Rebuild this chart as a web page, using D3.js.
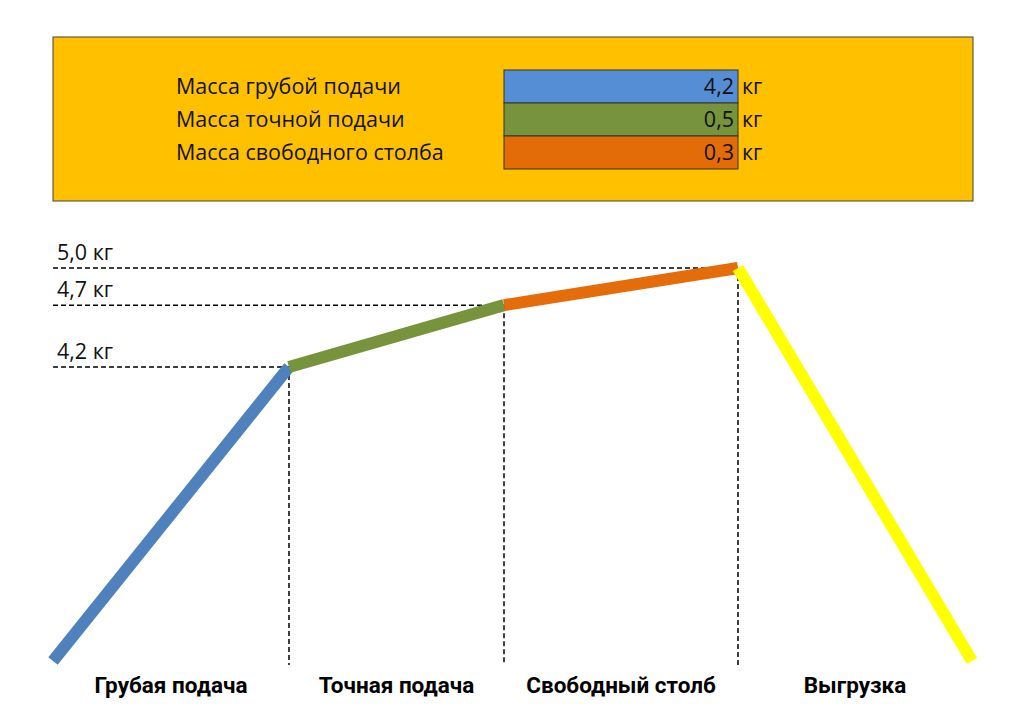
<!DOCTYPE html>
<html>
<head>
<meta charset="utf-8">
<script src="https://cdn.jsdelivr.net/npm/d3@7"></script>
<style>
  html, body { margin: 0; padding: 0; background: #fff; }
  svg { display: block; }
</style>
</head>
<body>
<svg id="chart"></svg>
<script>
// stages along the bottom
const stages = ['Грубая подача', 'Точная подача', 'Свободный столб', 'Выгрузка'];
// legend rows in the orange panel
const massLabels = ['Масса грубой подачи', 'Масса точной подачи', 'Масса свободного столба'];
const masses = [4.2, 0.5, 0.3];
const massColors = ['#558ed5', '#77933c', '#e36c09'];
// colours of the profile segments (last one is unloading)
const lineColors = ['#4f81bd', '#77933c', '#e46c0a', '#ffff00'];
const unit = 'кг';

const width = 1024;
const height = 721;

const fmt = v => d3.format('.1f')(v).replace('.', ',');

// cumulative mass at each boundary: 0, 4.2, 4.7, 5.0, then back to 0
const cumulative = Array.from(d3.cumsum(masses));
const levels = [0, ...cumulative, 0];

const svg = d3.select('#chart')
  .attr('width', width)
  .attr('height', height)
  .attr('viewBox', [0, 0, width, height]);

// ---- top panel ----
const panel = {x: 53, y: 37, w: 920, h: 164};
svg.append('rect')
  .attr('x', panel.x)
  .attr('y', panel.y)
  .attr('width', panel.w)
  .attr('height', panel.h)
  .attr('fill', '#ffc000')
  .attr('stroke', '#404040')
  .attr('stroke-width', 1);

const rowY = d3.scaleBand()
  .domain(d3.range(masses.length))
  .range([70, 169]);

const box = {x0: 504, x1: 738};
const panelFont = 21.5;

const rows = svg.append('g')
  .selectAll('g')
  .data(masses)
  .join('g')
  .attr('transform', (d, i) => `translate(0,${rowY(i)})`);

rows.append('rect')
  .attr('x', box.x0)
  .attr('width', box.x1 - box.x0)
  .attr('height', rowY.bandwidth())
  .attr('fill', (d, i) => massColors[i])
  .attr('stroke', '#333')
  .attr('stroke-width', 1);

rows.append('text')
  .attr('x', 176)
  .attr('y', rowY.bandwidth() / 2)
  .attr('dy', '0.35em')
  .attr('font-family', 'Open Sans, sans-serif')
  .attr('font-size', panelFont)
  .attr('fill', '#111')
  .text((d, i) => massLabels[i]);

rows.append('text')
  .attr('x', box.x1 - 4)
  .attr('y', rowY.bandwidth() / 2)
  .attr('dy', '0.35em')
  .attr('text-anchor', 'end')
  .attr('font-family', 'Open Sans, sans-serif')
  .attr('font-size', panelFont)
  .attr('fill', '#111')
  .text(d => fmt(d));

rows.append('text')
  .attr('x', box.x1 + 4)
  .attr('y', rowY.bandwidth() / 2)
  .attr('dy', '0.35em')
  .attr('font-family', 'Open Sans, sans-serif')
  .attr('font-size', panelFont)
  .attr('fill', '#111')
  .text(unit);

// ---- profile diagram ----
const x = d3.scaleLinear()
  .domain(d3.range(stages.length + 1))
  .range([53, 289, 504, 738, 972]);

// schematic mass axis: zero sits at the floor, levels above it
const y = d3.scaleLinear()
  .domain([0, 4.2, 5.0])
  .range([661, 367, 268]);

const floorY = 665;
const guides = svg.append('g')
  .attr('fill', 'none')
  .attr('stroke', '#000')
  .attr('stroke-width', 1.5)
  .attr('stroke-dasharray', '5,3');

// horizontal guides from the left edge to each boundary
guides.selectAll('line.h')
  .data(cumulative)
  .join('line')
  .attr('class', 'h')
  .attr('x1', x(0))
  .attr('x2', (d, i) => x(i + 1))
  .attr('y1', d => y(d))
  .attr('y2', d => y(d));

// vertical guides down to the floor
guides.selectAll('line.v')
  .data(cumulative)
  .join('line')
  .attr('class', 'v')
  .attr('x1', (d, i) => x(i + 1))
  .attr('x2', (d, i) => x(i + 1))
  .attr('y1', d => y(d))
  .attr('y2', floorY);

svg.append('g')
  .selectAll('text')
  .data(cumulative)
  .join('text')
  .attr('x', x(0) + 4)
  .attr('y', d => y(d) - 8)
  .attr('font-family', 'Open Sans, sans-serif')
  .attr('font-size', 21.5)
  .attr('fill', '#111')
  .text(d => `${fmt(d)} ${unit}`);

// coloured segments
const segments = d3.range(stages.length).map(i => ({
  x0: x(i), y0: y(levels[i]),
  x1: x(i + 1), y1: y(levels[i + 1]),
  color: lineColors[i]
}));

svg.append('g')
  .selectAll('line')
  .data(segments)
  .join('line')
  .attr('x1', d => d.x0)
  .attr('y1', d => d.y0)
  .attr('x2', d => d.x1)
  .attr('y2', d => d.y1)
  .attr('stroke', d => d.color)
  .attr('stroke-width', 12)
  .attr('stroke-linecap', 'butt');

// stage labels
svg.append('g')
  .selectAll('text')
  .data(stages)
  .join('text')
  .attr('x', (d, i) => (x(i) + x(i + 1)) / 2)
  .attr('y', 685)
  .attr('dy', '0.35em')
  .attr('text-anchor', 'middle')
  .attr('font-family', 'Roboto, sans-serif')
  .attr('font-weight', 'bold')
  .attr('font-size', 22.5)
  .attr('fill', '#000')
  .text(d => d);
</script>
</body>
</html>
